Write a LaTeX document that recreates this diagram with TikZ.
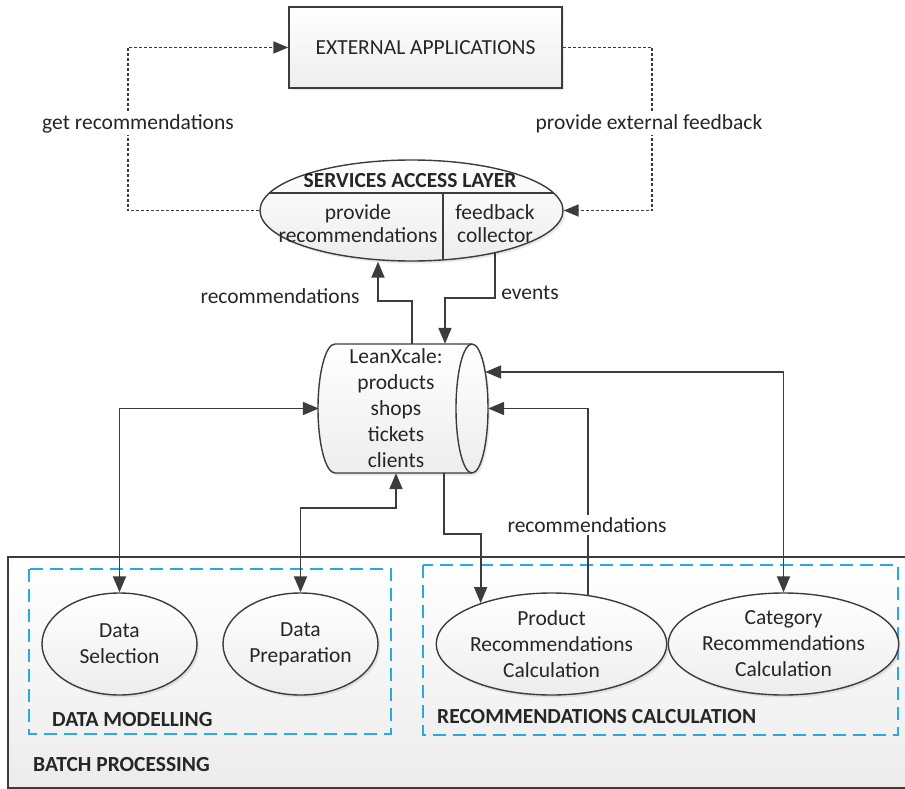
\documentclass[tikz,border=0pt]{standalone}
\usepackage{fontspec}
\setmainfont{Carlito}
\usetikzlibrary{shapes.geometric,arrows.meta,shadows,calc}
\definecolor{ln}{HTML}{3C3C3C}
\definecolor{cy}{HTML}{27A9E1}
\definecolor{tx}{HTML}{262626}
\begin{document}
\begin{tikzpicture}[x=1pt,y=-1pt,
  every node/.style={text=tx,font=\fontsize{21.5}{26}\selectfont},
  shp/.style={draw=ln,line width=1.4pt,top color=white,bottom color=gray!14,
    drop shadow={shadow xshift=2pt,shadow yshift=-2.5pt,opacity=0.18}},
  ell/.style={shp,ellipse,inner sep=0pt,align=center},
  arr/.style={draw=ln,line width=1.9pt,-{Triangle[length=16pt,width=13pt]}},
  darr/.style={draw=ln,line width=1.9pt,{Triangle[length=16pt,width=13pt]}-{Triangle[length=16pt,width=13pt]}},
  dsh/.style={draw=ln,line width=1.9pt,dash pattern=on 3pt off 2pt,-{Triangle[length=15pt,width=12pt]}},
  lbl/.style={fill=white,inner sep=2pt},
  grp/.style={draw=cy,line width=1.7pt,dash pattern=on 13pt off 7pt},
  ttl/.style={font=\fontsize{21.5}{26}\selectfont\bfseries,anchor=west,inner sep=0pt}]

\useasboundingbox (0,0) rectangle (905,789);

% batch processing frame
\draw[draw=ln,line width=1.4pt,top color=white,bottom color=gray!15] (8,557) rectangle (915,788);
\draw[grp] (29,569) rectangle (391,734);
\draw[grp] (423,565) rectangle (898,735);

% external applications
\node[shp,rectangle,minimum width=273pt,minimum height=81pt] (ext) at (425.5,47.5) {EXTERNAL APPLICATIONS};

% services access layer
\node[ell,minimum width=303pt,minimum height=101pt] (sal) at (411.5,210.5) {};
\draw[draw=ln,line width=1.4pt] (269.4,193) -- (553.6,193) (443,193) -- (443,259.9);
\node[font=\fontsize{21.5}{26}\selectfont\bfseries] (salT) at (410,181) {SERVICES ACCESS LAYER};
\node[align=center,font=\fontsize{21.5}{23}\selectfont] (salP) at (358,223.5) {provide\\recommendations};
\node[align=center,font=\fontsize{21.5}{23}\selectfont] (salF) at (495,223.5) {feedback\\collector};

% LeanXcale storage
\path[shp] (472,344) -- (335,344) arc[start angle=90,end angle=270,x radius=17pt,y radius=64.5pt]
  -- (472,473) arc[start angle=-90,end angle=90,x radius=16pt,y radius=64.5pt] -- cycle;
\draw[draw=ln,line width=1.4pt] (472,344) arc[start angle=90,end angle=270,x radius=16pt,y radius=64.5pt];
\node[inner sep=0pt,minimum width=169pt,minimum height=129pt] (db) at (403.5,408.5) {};
\node[align=center] (dbt) at (396,408) {LeanXcale:\\products\\shops\\tickets\\clients};

% batch ellipses
\node[ell,minimum width=155pt,minimum height=102pt] (ds) at (119.5,644) {Data\\Selection};
\node[ell,minimum width=155pt,minimum height=102pt] (dp) at (300.5,644) {Data\\Preparation};
\node[ell,minimum width=217pt,minimum height=102pt] (pr) at (551.5,644) {Product\\Recommendations\\Calculation};
\node[ell,minimum width=219pt,minimum height=102pt] (cc) at (783.5,644) {Category\\Recommendations\\Calculation};

% connectors
\draw[dsh] (sal.west) -- ++(-131,0) |- (ext.west);
\node[lbl] (l1) at (138,124) {get recommendations};
\draw[dsh] (ext.east) -- ++(89,0) |- (sal.east);
\node[lbl] (l2) at (649,124) {provide external feedback};

\draw[arr] ([xshift=8.5pt]db.north) -- ++(0,-43) -| ([xshift=-33.5pt]sal.south);
\node (l3) at (280,296) {recommendations};
\draw[arr] (sal.-27.5) |- ([xshift=41.5pt,yshift=46pt]db.north) -- ([xshift=41.5pt]db.north);
\node (l4) at (530,293) {events};

\draw[darr] (ds.north) |- (db.west);
\draw[darr] (dp.north) -- ++(0,-84) -| ([xshift=-7.5pt]db.south);
\draw[arr] ([xshift=40.5pt]db.south) -- ++(0,61) -| (pr.150.6);
\draw[arr] (pr.53.6) |- (db.east);
\node[lbl] (l5) at (587,525) {recommendations};
\draw[darr] (cc.north) |- ([xshift=-3pt,yshift=36.5pt]db.east);

% group titles
\node[ttl] (tdm) at (52,720) {DATA MODELLING};
\node[ttl] (trc) at (437,717) {RECOMMENDATIONS CALCULATION};
\node[ttl] (tbp) at (33,765) {BATCH PROCESSING};
\end{tikzpicture}
\end{document}
